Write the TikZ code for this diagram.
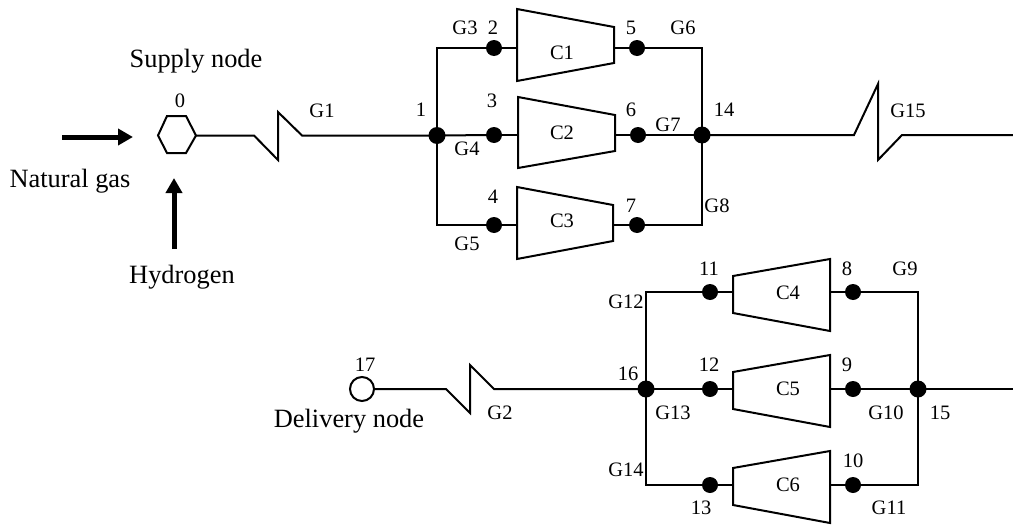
\documentclass[tikz,border=0pt]{standalone}
\usepackage{fontspec}
\setmainfont{Liberation Serif}
\usetikzlibrary{arrows.meta}
\tikzset{
  pipe/.style={line width=2pt,line join=miter},
  dot/.style={circle,fill=black,draw=none,inner sep=0pt,minimum size=16pt},
  hub/.style={circle,fill=black,draw=none,inner sep=0pt,minimum size=17pt},
  feed/.style={line width=5pt,-{Triangle[length=15pt,width=16pt]}},
  lab/.style={anchor=base,inner sep=0pt,font=\fontsize{20.5pt}{24pt}\selectfont},
  biglab/.style={anchor=base,inner sep=0pt,font=\fontsize{26.4pt}{30pt}\selectfont}
}
\begin{document}
\begin{tikzpicture}[x=1pt,y=-1pt]
\useasboundingbox (0,0) rectangle (1013,525);
% junctions and nodes
\node[hub] (n1) at (437,135.5) {};
\node[dot] (n2) at (494,48) {};
\node[dot] (n3) at (494,135) {};
\node[dot] (n4) at (494,225) {};
\node[dot] (n5) at (637,48) {};
\node[dot] (n6) at (638,135) {};
\node[dot] (n7) at (637,225) {};
\node[hub] (n14) at (702,135) {};
\node[dot] (n11) at (710,292) {};
\node[dot] (n12) at (710,389) {};
\node[dot] (n13) at (710,485) {};
\node[dot] (n8) at (853,292) {};
\node[dot] (n9) at (853,389) {};
\node[dot] (n10) at (853,485) {};
\node[hub] (n16) at (646,389) {};
\node[hub] (n15) at (918,389) {};
\node[circle,draw=black,line width=2pt,fill=white,inner sep=0pt,minimum size=24pt] (n17) at (362,389) {};
% supply node
\draw[pipe] (158,135.5) -- (167,116) -- (186,116) -- (196,135.5) -- (186,153) -- (167,153) -- cycle;
\coordinate (n0) at (196,135.5);
% compressors
\draw[pipe] (517,9) -- (614,27) -- (614,63) -- (517,81) -- cycle;
\draw[pipe] (518,97) -- (615,115) -- (615,151) -- (518,168) -- cycle;
\draw[pipe] (517,187) -- (613,205) -- (613,241) -- (517,259) -- cycle;
\draw[pipe] (733,276) -- (830,259) -- (830,331) -- (733,313) -- cycle;
\draw[pipe] (733,372) -- (830,355) -- (830,427) -- (733,409) -- cycle;
\draw[pipe] (733,468) -- (830,451) -- (830,523) -- (733,505) -- cycle;
\coordinate (c1i) at (517,48); \coordinate (c1o) at (614,48);
\coordinate (c2i) at (518,135); \coordinate (c2o) at (615,135);
\coordinate (c3i) at (517,225); \coordinate (c3o) at (613,225);
\coordinate (c4i) at (733,292); \coordinate (c4o) at (830,292);
\coordinate (c5i) at (733,389); \coordinate (c5o) at (830,389);
\coordinate (c6i) at (733,485); \coordinate (c6o) at (830,485);
% free ends
\coordinate (endA) at (1013,135);
\coordinate (endB) at (1013,389);
\coordinate (ngs) at (62,137); \coordinate (nge) at (133,137);
\coordinate (hys) at (174,249); \coordinate (hye) at (174,178);
% pipes with zigzag
\draw[pipe] (n0) -- (254,135.5) -- (278,160) -- (278,112) -- (302,135.5) -- (n1.center);
\draw[pipe] (n14.center) -- (854,135) -- (878,84) -- (878,160) -- (902,135) -- (endA);
\draw[pipe] (n17) -- (446,389) -- (470,413) -- (470,365) -- (494,389) -- (n16.center);
% upper group
\draw[pipe] (n1.center) |- (n2.center);
\draw[pipe] (n1.center) -- (n3.center);
\draw[pipe] (n1.center) |- (n4.center);
\draw[pipe] (n2) -- (c1i); \draw[pipe] (n3) -- (c2i); \draw[pipe] (n4) -- (c3i);
\draw[pipe] (c1o) -- (n5); \draw[pipe] (c2o) -- (n6); \draw[pipe] (c3o) -- (n7);
\draw[pipe] (n5.center) -| (n14.center);
\draw[pipe] (n6.center) -- (n14.center);
\draw[pipe] (n7.center) -| (n14.center);
% lower group
\draw[pipe] (n16.center) |- (n11.center);
\draw[pipe] (n16.center) -- (n12.center);
\draw[pipe] (n16.center) |- (n13.center);
\draw[pipe] (n11) -- (c4i); \draw[pipe] (n12) -- (c5i); \draw[pipe] (n13) -- (c6i);
\draw[pipe] (c4o) -- (n8); \draw[pipe] (c5o) -- (n9); \draw[pipe] (c6o) -- (n10);
\draw[pipe] (n8.center) -| (n15.center);
\draw[pipe] (n9.center) -- (n15.center);
\draw[pipe] (n10.center) -| (n15.center);
\draw[pipe] (n15.center) -- (endB);
% feed arrows
\draw[feed] (ngs) -- (nge);
\draw[feed] (hys) -- (hye);
% large labels
\node[biglab] (tSupply) at (196,67) {Supply node};
\node[biglab] (tGas) at (70,187) {Natural gas};
\node[biglab] (tHyd) at (182,283) {Hydrogen};
\node[biglab] (tDel) at (349,427) {Delivery node};
% small labels
\node[lab] (l0) at (180,107) {0};
\node[lab] (l1) at (421,116) {1};
\node[lab] (l2) at (493,34) {2};
\node[lab] (l3) at (492,107) {3};
\node[lab] (l4) at (493,203) {4};
\node[lab] (l5) at (631,34) {5};
\node[lab] (l6) at (631,116) {6};
\node[lab] (l7) at (631,212) {7};
\node[lab] (l8) at (847,275) {8};
\node[lab] (l9) at (847,371) {9};
\node[lab] (l10) at (853,467) {10};
\node[lab] (l11) at (709,275) {11};
\node[lab] (l12) at (709,371) {12};
\node[lab] (l13) at (701,514) {13};
\node[lab] (l14) at (724,116) {14};
\node[lab] (l15) at (940,419) {15};
\node[lab] (l16) at (628,380) {16};
\node[lab] (l17) at (365,371) {17};
\node[lab] (g1) at (322,117) {G1};
\node[lab] (g2) at (500,419) {G2};
\node[lab] (g3) at (465,34) {G3};
\node[lab] (g4) at (467,155) {G4};
\node[lab] (g5) at (467,250) {G5};
\node[lab] (g6) at (683,34) {G6};
\node[lab] (g7) at (668,131) {G7};
\node[lab] (g8) at (717,212) {G8};
\node[lab] (g9) at (905,275) {G9};
\node[lab] (g10) at (886,419) {G10};
\node[lab] (g11) at (889,514) {G11};
\node[lab] (g12) at (626,308) {G12};
\node[lab] (g13) at (673,419) {G13};
\node[lab] (g14) at (626,476) {G14};
\node[lab] (g15) at (908,117) {G15};
\node[lab] (tC1) at (562,59) {C1};
\node[lab] (tC2) at (562,139) {C2};
\node[lab] (tC3) at (562,227) {C3};
\node[lab] (tC4) at (788,299) {C4};
\node[lab] (tC5) at (788,395) {C5};
\node[lab] (tC6) at (788,491) {C6};
\end{tikzpicture}
\end{document}
